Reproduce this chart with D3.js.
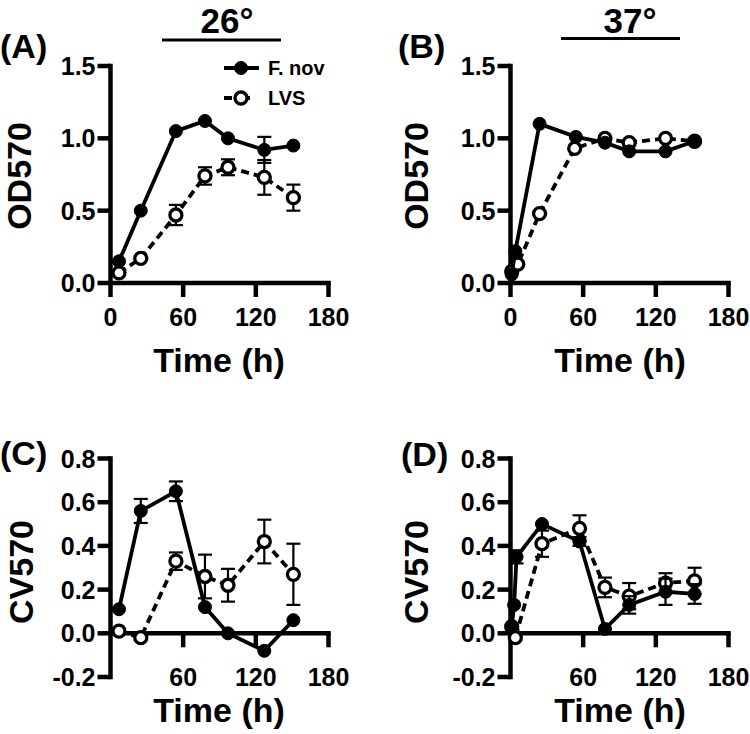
<!DOCTYPE html>
<html>
<head>
<meta charset="utf-8">
<script src="https://cdn.jsdelivr.net/npm/d3@7/dist/d3.min.js"></script>
<style>
  html, body { margin: 0; padding: 0; background: #fff; }
  svg { display: block; }
  text { font-family: "Liberation Sans", Arial, Helvetica, sans-serif; font-weight: bold; fill: #000; }
</style>
</head>
<body>
<svg id="chart" width="750" height="734"></svg>
<script>
// ---------------- DATA ----------------
const seriesNames = ["F. nov", "LVS"];
const xTicks = [0, 60, 120, 180];
const yTicksOD = [0.0, 0.5, 1.0, 1.5];
const yTicksCV = [-0.2, 0.0, 0.2, 0.4, 0.6, 0.8];
const tempLabels = ["26°", "37°"];

// Panel A (26°, OD570)
const timeA = [7, 25, 54, 78, 97, 127, 151];
const fnovA = [0.15, 0.50, 1.05, 1.12, 1.00, 0.92, 0.95];
const fnovAErr = [0, 0, 0, 0, 0, 0.09, 0];
const lvsA = [0.07, 0.17, 0.47, 0.74, 0.80, 0.73, 0.59];
const lvsAErr = [0, 0, 0.07, 0.06, 0.055, 0.12, 0.09];

// Panel B (37°, OD570)
const timeBF = [1, 4, 24, 54, 78, 98, 128, 152];
const fnovB = [0.06, 0.22, 1.10, 1.01, 0.97, 0.91, 0.91, 0.98];
const timeBL = [1, 6, 24, 53, 78, 98, 128, 152];
const lvsB = [0.08, 0.13, 0.48, 0.93, 1.00, 0.97, 1.00, 0.98];

// Panel C (26°, CV570)
const timeC = [7, 25, 54, 78, 97, 127, 151];
const fnovC = [0.11, 0.56, 0.65, 0.12, 0.00, -0.08, 0.06];
const fnovCErr = [0, 0.055, 0.045, 0, 0, 0, 0];
const lvsC = [0.01, -0.02, 0.33, 0.26, 0.22, 0.42, 0.27];
const lvsCErr = [0, 0, 0.04, 0.10, 0.075, 0.10, 0.14];

// Panel D (37°, CV570)
const timeDF = [1, 3, 5, 26, 57, 78, 98, 128, 152];
const fnovD = [0.03, 0.13, 0.35, 0.50, 0.42, 0.02, 0.13, 0.19, 0.18];
const fnovDErr = [0, 0, 0.03, 0, 0.02, 0, 0.04, 0.06, 0.045];
const timeDL = [1, 4, 26, 57, 78, 98, 128, 152];
const lvsD = [0.03, -0.02, 0.41, 0.48, 0.21, 0.17, 0.23, 0.24];
const lvsDErr = [0, 0, 0.06, 0.06, 0.045, 0.06, 0.045, 0.06];

// ---------------- DRAW ----------------
const svg = d3.select("#chart");
const zip = (t, v, e) => t.map((d, i) => ({ t: d, v: v[i], e: e ? e[i] : 0 }));

const panels = [
  { label: "(A)", lx: 0, ly: 58, yTitle: "OD570", ytx: 31, yty: 176,
    xr: [110.5, 328.5], ydom: [0, 1.5], yr: [283, 66], yTicks: yTicksOD, xLabelY: 326, showZero: true,
    xtitleX: 219, xtitleY: 372,
    fnov: zip(timeA, fnovA, fnovAErr), lvs: zip(timeA, lvsA, lvsAErr) },
  { label: "(B)", lx: 398, ly: 58, yTitle: "OD570", ytx: 428, yty: 176,
    xr: [510.5, 728.5], ydom: [0, 1.5], yr: [283, 66], yTicks: yTicksOD, xLabelY: 326, showZero: true,
    xtitleX: 620, xtitleY: 372,
    fnov: zip(timeBF, fnovB), lvs: zip(timeBL, lvsB) },
  { label: "(C)", lx: 0, ly: 465, yTitle: "CV570", ytx: 33, yty: 572,
    xr: [110.5, 328.5], ydom: [-0.2, 0.8], yr: [677, 458.5], yTicks: yTicksCV, xLabelY: 686, showZero: false,
    xtitleX: 219, xtitleY: 722,
    fnov: zip(timeC, fnovC, fnovCErr), lvs: zip(timeC, lvsC, lvsCErr) },
  { label: "(D)", lx: 401, ly: 466, yTitle: "CV570", ytx: 428, yty: 572,
    xr: [510.5, 728.5], ydom: [-0.2, 0.8], yr: [677, 458.5], yTicks: yTicksCV, xLabelY: 686, showZero: false,
    xtitleX: 620, xtitleY: 722,
    fnov: zip(timeDF, fnovD, fnovDErr), lvs: zip(timeDL, lvsD, lvsDErr) }
];

const AXW = 4.5;
const fmt = v => d3.format(".1f")(v).replace("−", "-");

panels.forEach(p => {
  const g = svg.append("g");
  const x = d3.scaleLinear().domain([0, 180]).range(p.xr);
  const y = d3.scaleLinear().domain(p.ydom).range(p.yr);
  const x0 = x(0), y0 = y(0);
  const yBottom = y(p.ydom[0]);

  // panel label
  g.append("text").attr("x", p.lx).attr("y", p.ly).style("font-size", "34px").text(p.label);

  // y title
  g.append("text")
    .attr("transform", `translate(${p.ytx},${p.yty}) rotate(-90)`)
    .attr("text-anchor", "middle").style("font-size", "34px").text(p.yTitle);

  // x title
  g.append("text").attr("x", p.xtitleX).attr("y", p.xtitleY)
    .attr("text-anchor", "middle").style("font-size", "34px").text("Time (h)");

  // y axis line
  const yAxisBottom = p.showZero ? y0 + 14 : yBottom + AXW / 2;
  g.append("line").attr("x1", x0).attr("x2", x0)
    .attr("y1", y(p.ydom[1]) - AXW / 2).attr("y2", yAxisBottom)
    .attr("stroke", "#000").attr("stroke-width", AXW);
  // y ticks
  p.yTicks.forEach(tv => {
    g.append("line").attr("x1", x0 - 13).attr("x2", x0).attr("y1", y(tv)).attr("y2", y(tv))
      .attr("stroke", "#000").attr("stroke-width", AXW);
    g.append("text").attr("x", x0 - 15).attr("y", y(tv)).attr("dy", "0.36em")
      .attr("text-anchor", "end").style("font-size", "25px").text(fmt(tv));
  });

  // x axis line at y=0
  g.append("line").attr("x1", x0).attr("x2", x(180) + AXW / 2).attr("y1", y0).attr("y2", y0)
    .attr("stroke", "#000").attr("stroke-width", AXW);
  xTicks.forEach(tv => {
    if (tv !== 0) {
      g.append("line").attr("x1", x(tv)).attr("x2", x(tv)).attr("y1", y0).attr("y2", y0 + 14)
        .attr("stroke", "#000").attr("stroke-width", AXW);
    }
    if (tv !== 0 || p.showZero) {
      g.append("text").attr("x", x(tv)).attr("y", p.xLabelY)
        .attr("text-anchor", "middle").style("font-size", "25px").text(tv);
    }
  });

  const line = d3.line().x(d => x(d.t)).y(d => y(d.v));

  function drawSeries(data, dashed) {
    g.append("path").datum(data).attr("d", line).attr("fill", "none")
      .attr("stroke", "#000").attr("stroke-width", 3.8)
      .attr("stroke-dasharray", dashed ? "8,5" : null);
    data.filter(d => d.e > 0).forEach(d => {
      const cx = x(d.t), ya = y(d.v + d.e), yb = y(d.v - d.e);
      g.append("line").attr("x1", cx).attr("x2", cx).attr("y1", ya).attr("y2", yb)
        .attr("stroke", "#000").attr("stroke-width", 2.2);
      [ya, yb].forEach(yy => g.append("line").attr("x1", cx - 7).attr("x2", cx + 7)
        .attr("y1", yy).attr("y2", yy).attr("stroke", "#000").attr("stroke-width", 2.2));
    });
    g.selectAll(null).data(data).enter().append("circle")
      .attr("cx", d => x(d.t)).attr("cy", d => y(d.v))
      .attr("r", dashed ? 6 : 6.5)
      .attr("fill", dashed ? "#fff" : "#000")
      .attr("stroke", "#000").attr("stroke-width", dashed ? 3.3 : 1);
  }
  drawSeries(p.lvs, true);
  drawSeries(p.fnov, false);
});

// temperature headers
const temps = [
  { t: tempLabels[0], cx: 227, x1: 162, x2: 281, ly: 40 },
  { t: tempLabels[1], cx: 630, x1: 561, x2: 680, ly: 38.5 }
];
temps.forEach(d => {
  svg.append("text").attr("x", d.cx).attr("y", 32.5).attr("text-anchor", "middle")
    .style("font-size", "35px").text(d.t);
  svg.append("line").attr("x1", d.x1).attr("x2", d.x2).attr("y1", d.ly).attr("y2", d.ly)
    .attr("stroke", "#000").attr("stroke-width", 3);
});

// legend (in panel A)
const leg = svg.append("g");
const legItems = [
  { name: seriesNames[0], y: 68, dashed: false },
  { name: seriesNames[1], y: 98, dashed: true }
];
legItems.forEach(d => {
  leg.append("line").attr("x1", 224).attr("x2", 259).attr("y1", d.y).attr("y2", d.y)
    .attr("stroke", "#000").attr("stroke-width", 3.8)
    .attr("stroke-dasharray", d.dashed ? "8,10" : null);
  leg.append("circle").attr("cx", 241).attr("cy", d.y).attr("r", d.dashed ? 6 : 6.5)
    .attr("fill", d.dashed ? "#fff" : "#000").attr("stroke", "#000").attr("stroke-width", d.dashed ? 3.3 : 1);
  leg.append("text").attr("x", 268).attr("y", d.y + 7).style("font-size", "20px").text(d.name);
});
</script>
</body>
</html>
